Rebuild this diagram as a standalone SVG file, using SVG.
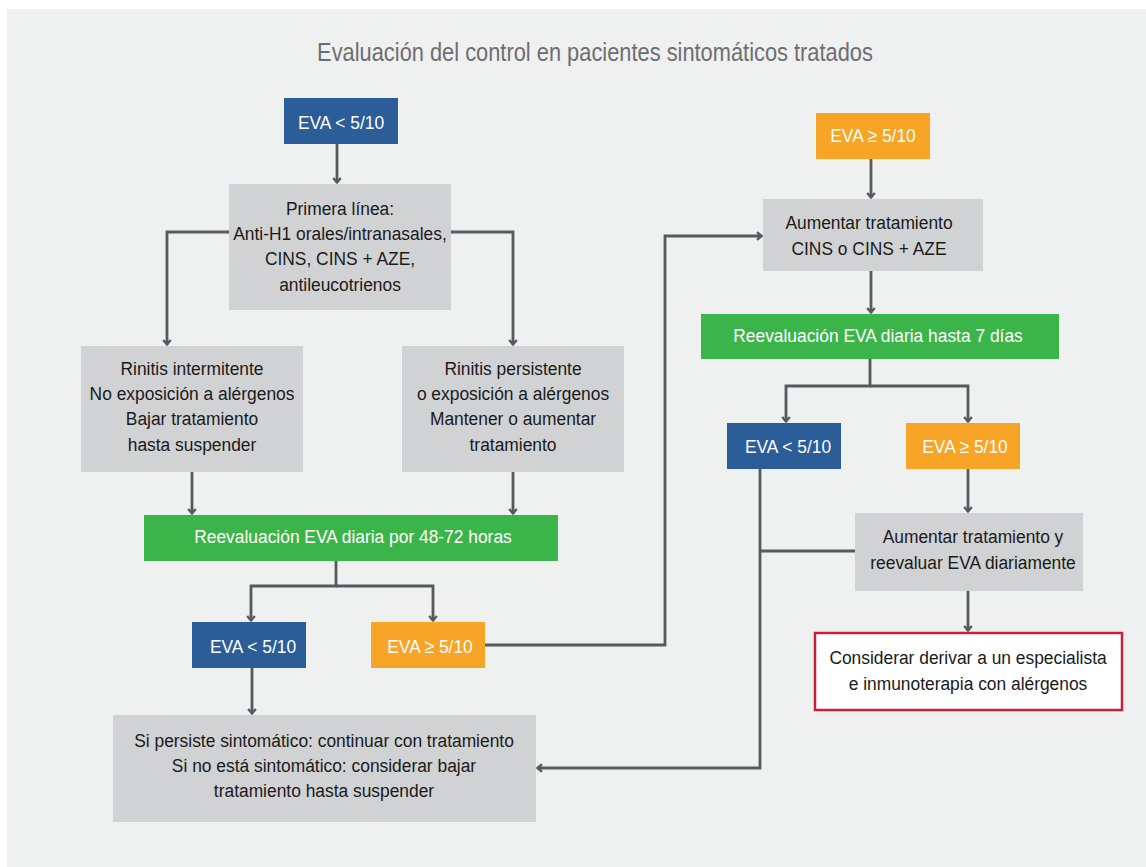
<svg xmlns="http://www.w3.org/2000/svg" width="1146" height="867" viewBox="0 0 1146 867">
<style>
text{font-family:"Liberation Sans",Arial,sans-serif;font-size:19px;text-anchor:middle}
.k{fill:#1a1a1a}
.w{fill:#ffffff}
.title{fill:#6d6e71;font-size:26px}
.gray{fill:#d1d2d4}
.blue{fill:#2b5e99}
.orange{fill:#f7a427}
.green{fill:#3bb54a}
.red{fill:#ffffff;stroke:#c4213a;stroke-width:2.5}
.c{fill:none;stroke:#58595b;stroke-width:2.8}
.a{marker-end:url(#arr)}
</style>
<defs>
<marker id="arr" viewBox="0 0 10 10" refX="8.5" refY="5" markerWidth="10" markerHeight="10" markerUnits="userSpaceOnUse" orient="auto">
<path d="M3.5,1.2 L8,5 L3.5,8.8" fill="none" stroke="#58595b" stroke-width="2.4"/>
</marker>
</defs>
<rect x="7" y="9" width="1139" height="858" fill="#eff0f0"/>
<g id="title" transform="translate(595 0) scale(0.84 1)"><text class="title" x="0" y="61">Evaluación del control en pacientes sintomáticos tratados</text></g>

<g id="connectors">
<path class="c a" d="M337,144 V183"/>
<path class="c a" d="M229,232 H167 V345"/>
<path class="c a" d="M451,232 H513 V345"/>
<path class="c a" d="M192,471 V514"/>
<path class="c a" d="M513,471 V514"/>
<path class="c a" d="M336,561 V586 H251 V621"/>
<path class="c a" d="M336,586 H433 V621"/>
<path class="c a" d="M252,668 V714"/>
<path class="c a" d="M485,645 H665 V236 H762"/>
<path class="c a" d="M871,159 V198"/>
<path class="c a" d="M871,271 V313"/>
<path class="c a" d="M870,359 V386 H786 V422"/>
<path class="c a" d="M870,386 H968 V422"/>
<path class="c a" d="M760,469 V768 H537"/>
<path class="c" d="M760,551 H855"/>
<path class="c a" d="M968,469 V512"/>
<path class="c a" d="M968,591 V631"/>
</g>

<g id="eva1"><rect class="blue" x="284" y="98" width="114" height="46"/>
<g transform="translate(341 0) scale(0.915 1)"><text class="w" x="0" y="129">EVA &lt; 5/10</text></g></g>

<g id="primera"><rect class="gray" x="229" y="184" width="222" height="126"/>
<g transform="translate(340 0) scale(0.915 1)"><text class="k" x="0" y="215">Primera línea:</text><text class="k" x="0" y="240">Anti-H1 orales/intranasales,</text><text class="k" x="0" y="265">CINS, CINS + AZE,</text><text class="k" x="0" y="291">antileucotrienos</text></g></g>

<g id="rinitis-int"><rect class="gray" x="81" y="346" width="222" height="126"/>
<g transform="translate(192 0) scale(0.915 1)"><text class="k" x="0" y="375">Rinitis intermitente</text><text class="k" x="0" y="400">No exposición a alérgenos</text><text class="k" x="0" y="425">Bajar tratamiento</text><text class="k" x="0" y="451">hasta suspender</text></g></g>

<g id="rinitis-pers"><rect class="gray" x="402" y="346" width="222" height="126"/>
<g transform="translate(513 0) scale(0.915 1)"><text class="k" x="0" y="375">Rinitis persistente</text><text class="k" x="0" y="400">o exposición a alérgenos</text><text class="k" x="0" y="425">Mantener o aumentar</text><text class="k" x="0" y="451">tratamiento</text></g></g>

<g id="reeval1"><rect class="green" x="144" y="515" width="414" height="46"/>
<g transform="translate(353 0) scale(0.915 1)"><text class="w" x="0" y="543">Reevaluación EVA diaria por 48-72 horas</text></g></g>

<g id="eva2"><rect class="blue" x="192" y="622" width="114" height="46"/>
<g transform="translate(253 0) scale(0.915 1)"><text class="w" x="0" y="653">EVA &lt; 5/10</text></g></g>

<g id="eva3"><rect class="orange" x="371" y="622" width="114" height="46"/>
<g transform="translate(430 0) scale(0.915 1)"><text class="w" x="0" y="653">EVA ≥ 5/10</text></g></g>

<g id="si-persiste"><rect class="gray" x="113" y="715" width="423" height="107"/>
<g transform="translate(324 0) scale(0.915 1)"><text class="k" x="0" y="747">Si persiste sintomático: continuar con tratamiento</text><text class="k" x="0" y="772">Si no está sintomático: considerar bajar</text><text class="k" x="0" y="797">tratamiento hasta suspender</text></g></g>

<g id="eva4"><rect class="orange" x="816" y="113" width="114" height="46"/>
<g transform="translate(873 0) scale(0.915 1)"><text class="w" x="0" y="142">EVA ≥ 5/10</text></g></g>

<g id="aumentar"><rect class="gray" x="763" y="199" width="220" height="72"/>
<g transform="translate(869 0) scale(0.915 1)"><text class="k" x="0" y="229">Aumentar tratamiento</text><text class="k" x="0" y="255">CINS o CINS + AZE</text></g></g>

<g id="reeval2"><rect class="green" x="701" y="314" width="358" height="45"/>
<g transform="translate(878 0) scale(0.915 1)"><text class="w" x="0" y="342">Reevaluación EVA diaria hasta 7 días</text></g></g>

<g id="eva5"><rect class="blue" x="727" y="423" width="114" height="46"/>
<g transform="translate(788 0) scale(0.915 1)"><text class="w" x="0" y="453">EVA &lt; 5/10</text></g></g>

<g id="eva6"><rect class="orange" x="906" y="423" width="114" height="46"/>
<g transform="translate(965 0) scale(0.915 1)"><text class="w" x="0" y="453">EVA ≥ 5/10</text></g></g>

<g id="aumentar-y"><rect class="gray" x="855" y="513" width="228" height="78"/>
<g transform="translate(973 0) scale(0.915 1)"><text class="k" x="0" y="543">Aumentar tratamiento y</text><text class="k" x="0" y="569">reevaluar EVA diariamente</text></g></g>

<g id="considerar"><rect class="red" x="815" y="633" width="307" height="77"/>
<g transform="translate(968 0) scale(0.915 1)"><text class="k" x="0" y="664">Considerar derivar a un especialista</text><text class="k" x="0" y="690">e inmunoterapia con alérgenos</text></g></g>
</svg>
